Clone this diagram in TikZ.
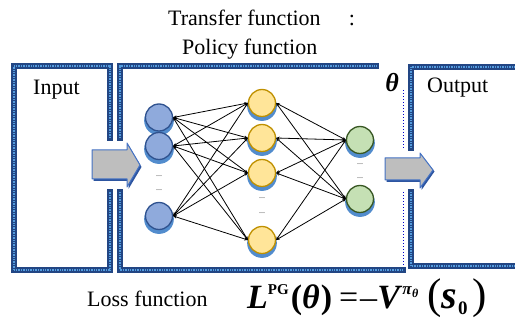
\documentclass[tikz,border=0pt]{standalone}
\usepackage{fontspec}
\setmainfont{Liberation Serif}
\usetikzlibrary{arrows.meta,shadows}

\definecolor{framenavy}{RGB}{34,70,132}
\definecolor{framelight}{RGB}{84,156,222}
\definecolor{nshadow}{RGB}{82,140,205}
\definecolor{bluefill}{RGB}{143,170,220}
\definecolor{blueline}{RGB}{47,82,143}
\definecolor{yellowfill}{RGB}{255,229,153}
\definecolor{yellowline}{RGB}{191,144,0}
\definecolor{greenfill}{RGB}{197,224,180}
\definecolor{greenline}{RGB}{56,87,35}
\definecolor{arrowgray}{RGB}{190,190,190}
\definecolor{arrowblue}{RGB}{68,114,196}
\definecolor{arrowdark}{RGB}{45,85,160}

\tikzset{
  frameline/.style={line width=6pt,draw=framenavy,line cap=rect},
  frametex/.style={line width=2pt,draw=framelight,dash pattern=on 0.8pt off 0.9pt,line cap=butt},
  neuron/.style={circle,minimum size=27pt,inner sep=0pt,line width=1.3pt,
    drop shadow={shadow xshift=0pt,shadow yshift=-2.8pt,shadow scale=1.1,fill=nshadow,opacity=1}},
  bneuron/.style={neuron,fill=bluefill,draw=blueline},
  yneuron/.style={neuron,fill=yellowfill,draw=yellowline},
  gneuron/.style={neuron,fill=greenfill,draw=greenline},
  vdots/.style={font=\fontsize{8}{8}\selectfont,inner sep=0pt,text=black!85},
  edge/.style={line width=0.8pt,{Stealth[length=3.5pt,width=3pt]}-{Stealth[length=3.5pt,width=3pt]}},
  label/.style={font=\fontsize{22}{24}\selectfont,inner sep=0pt,anchor=base west},
  blockarrow/.style={fill=arrowgray,draw=arrowblue,line width=1pt,line join=round}
}

\begin{document}
\begin{tikzpicture}[x=1pt,y=-1pt]
\useasboundingbox (0,0) rectangle (515,320);

% frames: input, network, output
\foreach \st in {frameline,frametex}{
  \draw[\st] (110,138) -- (110,66.5) -- (13.5,66.5) -- (13.5,270) -- (110,270) -- (110,192);
  \draw[\st] (119.5,138) -- (119.5,66) -- (376,66);
  \draw[\st] (119.5,192) -- (119.5,270) -- (403,270);
  \draw[\st] (411,148) -- (411,67) -- (518,67);
  \draw[\st] (411,192) -- (411,266) -- (518,266);
}
\draw[blue!80!black,line width=1pt,dotted] (403,90) -- (403,148);
\draw[blue!80!black,line width=1pt,dotted] (403,192) -- (403,266);

% block arrows
\fill[arrowdark] (93.5,152) -- (128.5,152) -- (128.5,145) -- (141.5,167) -- (128.5,189) -- (128.5,181) -- (93.5,181) -- cycle;
\draw[blockarrow] (92,150) -- (127,150) -- (127,143) -- (140,165) -- (127,187) -- (127,179) -- (92,179) -- cycle;
\fill[arrowdark] (386.5,160) -- (421.5,160) -- (421.5,155) -- (434.5,171.5) -- (421.5,190) -- (421.5,182) -- (386.5,182) -- cycle;
\draw[blockarrow] (385,158) -- (420,158) -- (420,153) -- (433,170) -- (420,188) -- (420,180) -- (385,180) -- cycle;

% neurons
\node[bneuron] (b1) at (159,117.5) {};
\node[bneuron] (b2) at (159,146) {};
\node[bneuron] (b3) at (159,216) {};
\node[vdots] (bd1) at (159,176) {...};
\node[vdots] (bd2) at (159,190) {...};

\node[yneuron] (y1) at (262,103) {};
\node[yneuron] (y2) at (262,138) {};
\node[yneuron] (y3) at (262,173) {};
\node[yneuron] (y4) at (262,240) {};
\node[vdots] (yd1) at (262,198) {...};
\node[vdots] (yd2) at (262,213) {...};

\node[gneuron] (g1) at (360,140) {};
\node[gneuron] (g2) at (360,199) {};
\node[vdots] (gd1) at (360,164) {...};
\node[vdots] (gd2) at (360,178) {...};

% connections
\foreach \i in {b1,b2,b3}
  \foreach \j in {y1,y2,y3,y4}
    \draw[edge] (\i.east) -- (\j.west);
\foreach \i in {y1,y2,y3,y4}
  \foreach \j in {g1,g2}
    \draw[edge] (\i.east) -- (\j.west);

% texts
\node[label] (tf) at (168,26) {Transfer function\hspace{28pt}:};
\node[label] (pf) at (182,55) {Policy function};
\node[label] (in) at (33,95) {Input};
\node[label] (out) at (427,93) {Output};
\node[inner sep=0pt,font=\fontsize{26}{26}\selectfont\bfseries\itshape] (th) at (392,83) {θ};
\node[label] (lf) at (87,307) {Loss function};
\node[label,font=\fontsize{34}{36}\selectfont] (formula) at (247,309)
  {\textbf{\textit{L}}\raisebox{14pt}{\fontsize{15}{15}\selectfont\textbf{PG}}\hspace{2pt}\textbf{(\textit{θ}\hspace{1pt})}\hspace{7pt}=\hspace{2pt}–\textbf{\textit{V}}\raisebox{14pt}{\fontsize{17}{17}\selectfont\textbf{\textit{π}}\raisebox{-3pt}{\fontsize{12}{12}\selectfont\textbf{\textit{θ}}}}\hspace{9pt}{\fontsize{43}{43}\selectfont(}{\fontsize{40}{40}\selectfont\textbf{\textit{s}}}\hspace{1pt}\raisebox{-6pt}{\fontsize{19}{19}\selectfont\textbf{0}}\hspace{5pt}{\fontsize{43}{43}\selectfont)}};
\end{tikzpicture}
\end{document}
